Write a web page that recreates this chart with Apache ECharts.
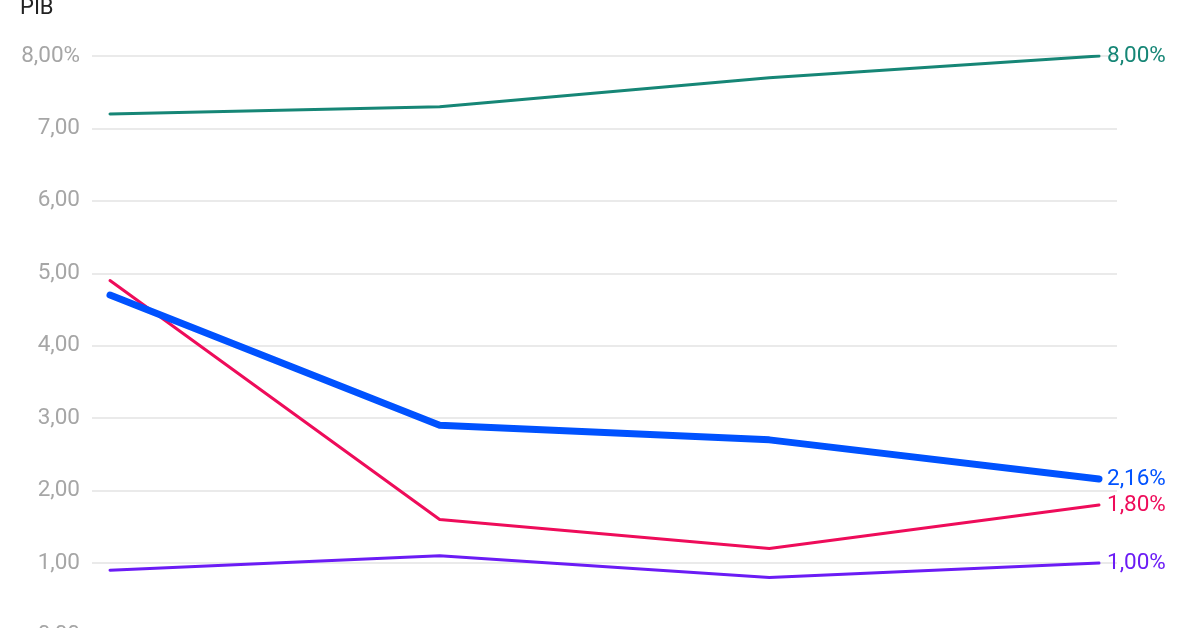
<!DOCTYPE html>
<html>
<head>
<meta charset="utf-8">
<style>
html,body{margin:0;padding:0;background:#fff;}
#c{width:1200px;height:628px;}
</style>
<script src="https://cdn.jsdelivr.net/npm/echarts@6/dist/echarts.min.js"></script>
</head>
<body>
<div id="c"></div>
<script>
const categories = [0, 1, 2, 3];
const greenValues = [7.2, 7.3, 7.7, 8.0];
const blueValues = [4.7, 2.9, 2.7, 2.16];
const redValues = [4.9, 1.6, 1.2, 1.8];
const purpleValues = [0.9, 1.1, 0.8, 1.0];
const yTicks = [0, 1, 2, 3, 4, 5, 6, 7, 8];

const fmt = v => v.toFixed(2).replace('.', ',');
function pairs(vals){ return vals.map((v,i)=>[categories[i], v]); }

const chart = echarts.init(document.getElementById('c'));
function mk(name, vals, color, width, z){
  return {
    name, type:'line', data: pairs(vals), z,
    symbol:'none', smooth:false,
    lineStyle:{color, width, cap:'round', join:'round'},
    itemStyle:{color},
    endLabel:{show:true, color, fontFamily:'Roboto', fontSize:22.5, distance:8,
      formatter: p => fmt(p.value[1]) + '%'}
  };
}
chart.setOption({
  animation:false,
  title:{text:'PIB', left:20, top:-3, padding:0,
    textStyle:{color:'#222', fontFamily:'Roboto', fontSize:22, fontWeight:'normal'}},
  grid:{left:92, right:83, top:56, bottom:-7.4, containLabel:false, outerBoundsMode:'none'},
  xAxis:{type:'value', min:-0.0546, max:3.0546, show:false, splitLine:{show:false}},
  yAxis:{type:'value', min:0, max:8, interval:1,
    axisLine:{show:false}, axisTick:{show:false},
    axisLabel:{color:'#a6a6a6', fontFamily:'Roboto', fontSize:22.5, margin:12,
      formatter: v => fmt(v) + (v===8 ? '%' : '')},
    splitLine:{lineStyle:{color:'#e3e3e3', width:1.5}}
  },
  series:[
    mk('green', greenValues, '#168676', 3, 2),
    mk('red', redValues, '#ee0c5a', 3, 3),
    mk('purple', purpleValues, '#6b1cf5', 3, 2),
    mk('blue', blueValues, '#0052ff', 7, 4)
  ]
});
</script>
</body>
</html>
